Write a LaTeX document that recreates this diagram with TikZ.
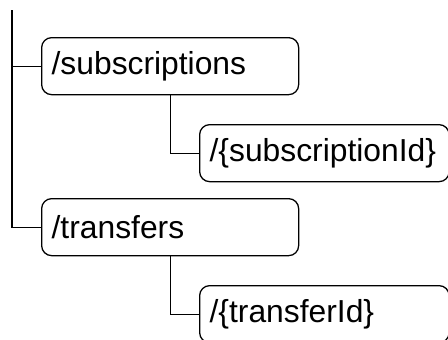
\documentclass[tikz,border=0pt]{standalone}
\usepackage{fontspec}
\setmainfont{Liberation Sans}
\begin{document}
\begin{tikzpicture}[x=1pt,y=1pt,
  line width=1.3pt,
  res/.style={draw, rounded corners=10pt, anchor=north west, minimum height=57pt,
    inner xsep=10pt, inner ysep=0pt, align=left, font=\fontsize{31.8}{36}\selectfont},
  wide/.style={text width=237pt},
  wider/.style={text width=229.5pt},
  conn/.style={draw, line width=1.3pt}]
\useasboundingbox (0,0) rectangle (448,-340);
\coordinate (top) at (12,-10);
\node[res, wide] (subs) at (41,-37) {/subscriptions};
\node[res, wider] (subid) at (199,-124) {/\{subscriptionId\}};
\node[res, wide] (trans) at (41,-198) {/transfers};
\node[res, wider] (transid) at (199,-285) {/\{transferId\}};
\draw[conn] (top) |- (subs.west);
\draw[conn] (top) |- (trans.west);
\draw[conn] (subs.south) |- (subid.west);
\draw[conn] (trans.south) |- (transid.west);
\end{tikzpicture}
\end{document}
